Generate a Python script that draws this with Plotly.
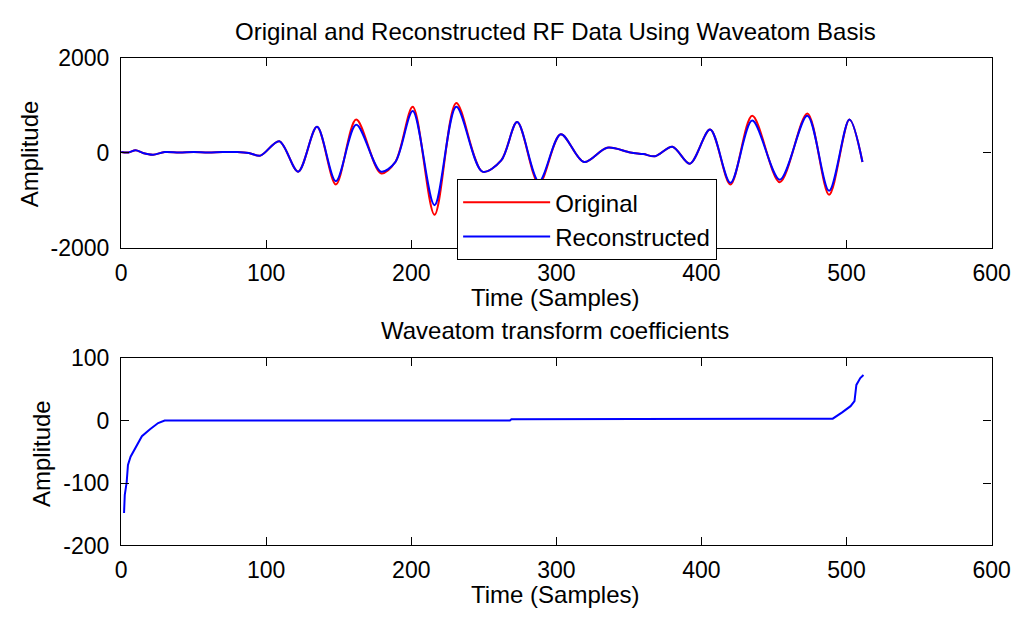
import plotly.graph_objects as go

# --- RF trace: sample index and amplitude at turning points ---
rf_time = [0, 5, 10, 15, 22, 30, 40, 50, 60, 70, 80, 88, 96, 109, 122, 135, 148,
           162, 179, 189, 201, 216, 231, 249, 262, 273, 288, 303, 319, 335, 351,
           360, 368, 380, 392, 406, 420, 435, 454, 473, 488, 502, 511]
rf_original = [20, 10, 56, 0, -36, 20, 10, 20, 10, 20, 20, 0, -56, 245, -392, 547, -660,
               700, -426, -191, 969, -1296, 1049, -392, -157, 647, -650, 392, -191, 110, 10,
               -24, -70, 130, -225, 492, -660, 780, -613, 828, -875, 700, -191]
rf_reconstructed = [20, 10, 56, 0, -36, 20, 10, 20, 10, 20, 20, 0, -56, 245, -392, 547, -593,
                    593, -392, -191, 880, -1096, 969, -392, -157, 647, -600, 392, -191, 110, 10,
                    -24, -70, 130, -225, 492, -627, 680, -560, 780, -794, 700, -191]

# --- Sorted waveatom coefficients ---
coef_index = [2, 2.5, 3.8, 4.7, 6.5, 9.9, 14.3, 19.9, 25.5, 30, 268, 269, 490.5, 497,
              502.8, 505.5, 506.8, 509.5, 511.7]
coef_value = [-148, -119, -99, -71, -58, -43, -25, -14, -4, 0, 0, 2, 3, 13,
              23, 31, 57, 68, 73]

x_ticks = [0, 100, 200, 300, 400, 500, 600]
rf_ticks = [-2000, 0, 2000]
coef_ticks = [-200, -100, 0, 100]

W, H = 1034, 627
FONT = "Liberation Sans, Arial, sans-serif"
TICK_FS = 23
LABEL_FS = 24

# Pin the graph div to the top-left corner of the page.
PIN_DIV = (
    "var gd = document.getElementById('{plot_id}');"
    "document.body.style.margin = '0';"
    "gd.style.position = 'fixed'; gd.style.left = '0px'; gd.style.top = '0px';"
)


def px_x(p):
    return p / W


def px_y(p):
    return 1 - p / H


def hyphen(v):
    return str(v).replace("\u2212", "-")


fig = go.Figure()
fig.add_trace(go.Scatter(x=rf_time, y=rf_original, mode="lines", name="Original",
                         legendgroup="a",
                         line=dict(color="#ff0000", width=2, shape="spline", smoothing=0.9),
                         xaxis="x", yaxis="y"))
fig.add_trace(go.Scatter(x=rf_time, y=rf_reconstructed, mode="lines", name="Reconstructed",
                         legendgroup="b",
                         line=dict(color="#0000ff", width=2, shape="spline", smoothing=0.9),
                         xaxis="x", yaxis="y"))
fig.add_trace(go.Scatter(x=coef_index, y=coef_value, mode="lines", showlegend=False,
                         line=dict(color="#0000ff", width=2),
                         xaxis="x2", yaxis="y2"))

axis_common = dict(showline=True, linecolor="black", linewidth=1.3, mirror="ticks",
                   ticks="inside", ticklen=8, tickcolor="black", tickwidth=1.3,
                   showgrid=False, zeroline=False, ticklabeloverflow="allow",
                   tickfont=dict(family=FONT, size=TICK_FS, color="black"))
xaxis_common = dict(ticklabelstandoff=4, **axis_common)
yaxis_common = dict(ticklabelstandoff=6, **axis_common)

xdom = [px_x(118), px_x(1010)]
fig.update_layout(
    width=W, height=H,
    margin=dict(l=0, r=0, t=0, b=0),
    paper_bgcolor="white", plot_bgcolor="white",
    font=dict(family=FONT, size=LABEL_FS, color="black"),
    xaxis=dict(domain=xdom, range=[0, 600], tickvals=x_ticks,
               ticktext=[hyphen(v) for v in x_ticks], anchor="y", **xaxis_common),
    yaxis=dict(domain=[px_y(245.5), px_y(46.5)], range=[-2000, 2000],
               tickvals=rf_ticks, ticktext=[hyphen(v) for v in rf_ticks],
               anchor="x", **yaxis_common),
    xaxis2=dict(domain=xdom, range=[0, 600], tickvals=x_ticks,
                ticktext=[hyphen(v) for v in x_ticks], anchor="y2", **xaxis_common),
    yaxis2=dict(domain=[px_y(555.5), px_y(360)], range=[-200, 100],
                tickvals=coef_ticks, ticktext=[hyphen(v) for v in coef_ticks],
                anchor="x2", **yaxis_common),
    legend=dict(x=px_x(462), y=px_y(173), xanchor="left", yanchor="top",
                bgcolor="white", bordercolor="black", borderwidth=1.3,
                font=dict(family=FONT, size=LABEL_FS, color="black"),
                itemwidth=87, entrywidth=168, entrywidthmode="pixels",
                tracegroupgap=0),
    showlegend=True,
)

notes = [
    ("Original and Reconstructed RF Data Using Waveatom Basis", 563, 19, 0),
    ("Time (Samples)", 563, 297, 0),
    ("Amplitude", 24, 147, -90),
    ("Waveatom transform coefficients", 563, 331, 0),
    ("Time (Samples)", 563, 607, 0),
    ("Amplitude", 37, 460, -90),
]
for text, x, y, ang in notes:
    fig.add_annotation(text=text, x=px_x(x), y=px_y(y), xref="paper", yref="paper",
                       showarrow=False, textangle=ang, xanchor="center", yanchor="middle",
                       font=dict(family=FONT, size=LABEL_FS, color="black"))

fig.write_html("out.html", post_script=PIN_DIV)
